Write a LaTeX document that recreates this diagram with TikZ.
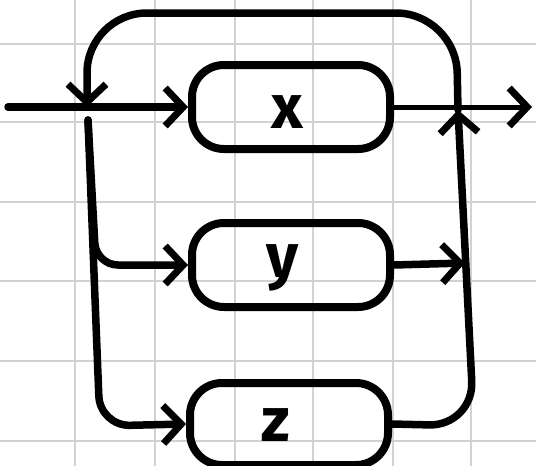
\documentclass[tikz,border=0pt]{standalone}
\usepackage{fontspec}
\setmainfont{Fira Sans}
\usetikzlibrary{arrows.meta}
\begin{document}
\begin{tikzpicture}[x=1pt,y=-1pt,
  gridline/.style={draw=gray!35,line width=1.6pt},
  wire/.style={line width=7.5pt,line cap=round,line join=round},
  arr/.style={wire,-{Straight Barb[length=18pt,width=38pt,line width=7pt]}},
  thinarr/.style={arr,line width=5pt},
  block/.style={draw,line width=8pt,rounded corners=32pt,minimum width=198pt,minimum height=84pt,inner sep=0pt},
  lbl/.style={font=\fontsize{62}{62}\selectfont\bfseries,inner sep=0pt}]
\useasboundingbox (0,0) rectangle (536,466);
\fill[white] (0,0) rectangle (536,466);
% grid
\foreach \gx in {75,155,235,313,393,471} \draw[gridline] (\gx,0) -- (\gx,466);
\foreach \gy in {44,122,202,281,361,441} \draw[gridline] (0,\gy) -- (536,\gy);
% blocks
\node[block] (bx) at (291,107) {};
\node[block] (by) at (291,265) {};
\node[block,minimum height=82pt] (bz) at (289,424) {};
\node[lbl] (tx) at (287,112) {x};
\node[lbl] (ty) at (283,268) {y};
\node[lbl] (tz) at (276,425) {z};
% points
\coordinate (in) at (8,107);
\coordinate (j) at (87,107);
\coordinate (jb) at (88,120);
\coordinate (c1) at (458,110);
\coordinate (out) at (532,107);
\coordinate (cy) at (465,263);
% input
\draw[arr] (in) -- (bx.west);
% output
\draw[thinarr] (bx.east) -- (out);
% y to sum line
\draw[arr] (by.east) -- (cy);
% z up the right side
\draw[arr,rounded corners=45pt] (bz.east) -- (474,426) -- (c1);
% feedback loop
\draw[arr,rounded corners=60pt] (c1) -- (456,13) -- (87,13) -- (j);
% branches
\draw[arr,rounded corners=22pt] (jb) -- (96,265) -- (by.west);
\draw[arr,rounded corners=30pt] (jb) -- (100,426) -- (bz.west);
\end{tikzpicture}
\end{document}
